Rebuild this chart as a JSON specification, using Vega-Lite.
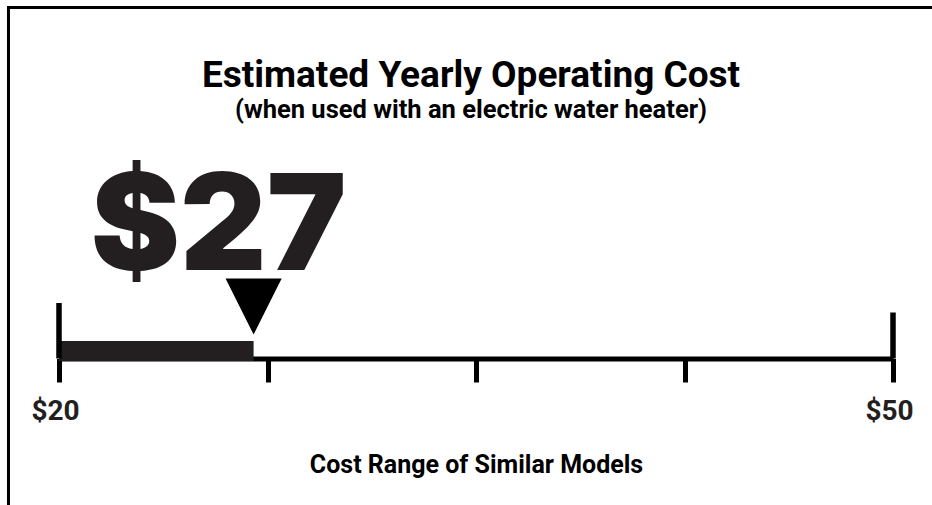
{
  "$schema": "https://vega.github.io/schema/vega-lite/v6.json",
  "autosize": {"type": "none"},
  "width": 834,
  "height": 370,
  "padding": {"left": 59, "right": 39, "top": 135, "bottom": 0},
  "background": "white",
  "datasets": {
    "range": [{"low": 20, "high": 50}],
    "model": [{"low": 20, "cost": 27}]
  },
  "title": {
    "text": "Estimated Yearly Operating Cost",
    "subtitle": "(when used with an electric water heater)",
    "font": "Roboto",
    "fontSize": 37,
    "fontWeight": "bold",
    "color": "#000000",
    "subtitleFont": "Roboto",
    "subtitleFontSize": 25.5,
    "subtitleFontWeight": "bold",
    "subtitleColor": "#000000",
    "subtitlePadding": 3,
    "anchor": "middle",
    "frame": "group",
    "offset": -118,
    "dx": -5
  },
  "encoding": {
    "x": {"type": "quantitative", "scale": {"domain": [20, 50], "nice": false, "zero": false},
      "axis": {"values": [20, 27.5, 35, 42.5, 50], "labelExpr": "datum.value == 20 || datum.value == 50 ? '$' + datum.value : ''", "title": "Cost Range of Similar Models"}},
    "y": {"type": "quantitative", "scale": {"domain": [-146.5, 223.5], "nice": false, "zero": false}, "axis": null}
  },
  "layer": [
    {
      "data": {"name": "range"},
      "mark": {"type": "rect", "fill": null, "filled": false, "stroke": "#000000", "strokeWidth": 3},
      "encoding": {
        "x": {"datum": 18.183},
        "x2": {"datum": 60},
        "y": {"datum": 351},
        "y2": {"datum": -160}
      }
    },
    {
      "data": {"name": "model"},
      "mark": {"type": "rect", "color": "#231f20"},
      "encoding": {
        "x": {"field": "low"},
        "x2": {"field": "cost"},
        "y": {"datum": 17.5},
        "y2": {"datum": -2.5}
      }
    },
    {
      "data": {"name": "range"},
      "mark": {"type": "rule", "color": "#000000", "strokeWidth": 5.5},
      "encoding": {
        "x": {"field": "low"},
        "y": {"datum": 0},
        "y2": {"datum": 55.5}
      }
    },
    {
      "data": {"name": "range"},
      "mark": {"type": "rule", "color": "#000000", "strokeWidth": 5.5},
      "encoding": {
        "x": {"field": "high"},
        "y": {"datum": 0},
        "y2": {"datum": 46}
      }
    },
    {
      "data": {"name": "model"},
      "mark": {"type": "point", "shape": "M-1,-1L1,-1L0,1Z", "filled": true, "color": "#000000", "opacity": 1, "size": 3150, "strokeWidth": 0},
      "encoding": {
        "x": {"field": "cost"},
        "y": {"datum": 52}
      }
    },
    {
      "data": {"name": "model"},
      "mark": {"type": "text", "font": "Inter", "fontWeight": 900, "fontSize": 134, "color": "#231f20", "align": "center", "baseline": "alphabetic", "dx": -35},
      "encoding": {
        "x": {"field": "cost"},
        "y": {"datum": 88.5},
        "text": {"field": "cost", "type": "quantitative", "format": "$d"}
      }
    }
  ],
  "config": {
    "view": {"stroke": null},
    "axisX": {
      "offset": -146.5,
      "grid": false,
      "domainColor": "#000000",
      "domainWidth": 5,
      "domainCap": "butt",
      "tickColor": "#000000",
      "tickWidth": 5,
      "tickSize": 23.5,
      "labelFont": "Roboto",
      "labelFontSize": 28,
      "labelFontWeight": "bold",
      "labelColor": "#231f20",
      "labelPadding": 15,
      "labelOffset": -4,
      "labelOverlap": false,
      "labelFlush": false,
      "titleFont": "Roboto",
      "titleFontSize": 25,
      "titleFontWeight": "bold",
      "titleColor": "#000000",
      "titlePadding": 27
    }
  }
}
